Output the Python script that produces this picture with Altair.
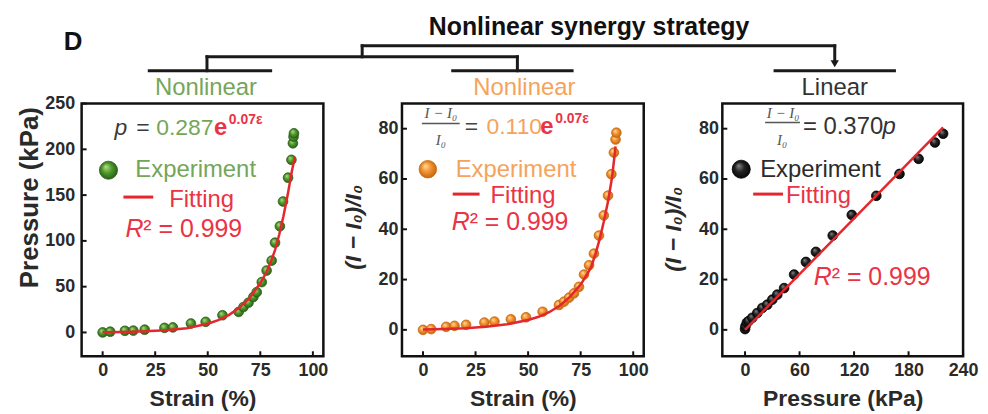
import altair as alt
import pandas as pd

FONT = "Liberation Sans"
SERIF = "Liberation Serif"

# ---------------- data ----------------
# Panel 1: strain (%) vs pressure (kPa)
strain_1 = [0, 3.6, 10.6, 14.6, 20, 29.4, 33.4, 42, 49, 57, 64.7, 67, 69.4, 71.7, 73.3,
            75.7, 78, 80.4, 82, 84.3, 85.8, 88.2, 89.8, 90.5, 90.8, 91]
pressure_1 = [0, 0.8, 1.8, 2, 3, 5, 5.5, 9.8, 11.6, 18.8, 22.4, 27.8, 32.5, 38.7, 44,
              55, 67.6, 78.4, 98, 116, 143, 169, 188.5, 206.6, 213.8, 217.5]
fit_strain_1 = [0, 10, 20, 30, 40, 50, 55, 60, 65, 70, 75, 78, 80, 82, 84, 86, 88, 90, 91.5]
fit_pressure_1 = [0.3, 0.6, 1.2, 2.4, 4.7, 9.5, 13.5, 19, 27, 38, 54, 66, 77, 90, 107, 127, 150, 176, 192]

# Panel 2: strain (%) vs (I-I0)/I0
strain_2 = [0, 3.9, 11, 15, 20.5, 29.2, 34, 41.8, 49, 56.9, 64.7, 67.1, 69.5, 71.8, 74.2,
            76.6, 79, 81.3, 83.7, 86, 88, 89.6, 90.8, 91.6, 92]
current_2 = [0, 0.3, 1.2, 1.6, 2, 2.9, 3.3, 4.2, 5, 7.2, 9.9, 11.2, 12.8, 14.5, 17.1,
             22, 25.7, 30.3, 37.5, 45.5, 53.4, 61.9, 70.5, 75.7, 78.4]
fit_strain_2 = [0, 10, 20, 30, 40, 50, 55, 60, 65, 70, 75, 78, 80, 82, 84, 86, 88, 90, 91.6]
fit_current_2 = [0.1, 0.3, 0.6, 1.2, 2.2, 3.9, 5.2, 7, 9.6, 13.2, 18, 22, 25, 30, 36, 43, 51, 61, 73]

# Panel 3: pressure (kPa) vs (I-I0)/I0
pressure_3 = [0, 0.5, 2, 4, 8, 13.5, 19, 24.5, 30, 35.5, 43, 54, 67, 78, 96.5, 117.5,
              144.5, 170, 191, 209, 218]
current_3 = [0.3, 1.5, 2.9, 3.5, 4.8, 6.7, 8.7, 10, 12, 14, 16.6, 22, 27, 31, 37.5, 45.7,
             53.3, 62, 68, 74.5, 78]
fit_pressure_3 = [0, 218]
fit_current_3 = [0, 80.5]

# axis ticks
ticks_strain = [0, 25, 50, 75, 100]
ticks_pressure_y = [0, 50, 100, 150, 200, 250]
ticks_current = [0, 20, 40, 60, 80]
ticks_pressure_x = [0, 60, 120, 180, 240]

# ---------------- styles ----------------
RED = "#e5262d"
RED_T = "#ea3344"
GREEN_T = "#74a65a"
ORANGE_T = "#f5a35c"
DARK = "#2b2b2b"
AXIS_C = "#2a2a2a"
FRAME = "#111111"

W = [243, 243, 242]
H = 254
ORIG = [(80, 101), (402, 101), (724, 101)]
SPACING = 79

one = pd.DataFrame({"k": [0]})


def sphere(light, mid, dark):
    return alt.Gradient(gradient="radial", x1=0.35, y1=0.3, r1=0.0, x2=0.5, y2=0.5, r2=0.6,
                        stops=[alt.GradientStop(color=light, offset=0),
                               alt.GradientStop(color=mid, offset=0.45),
                               alt.GradientStop(color=dark, offset=1)])


def txt(s, x, y, o, size, color, weight="normal", style="normal", font=FONT, align="left"):
    return alt.Chart(one).mark_text(text=s, fontSize=size, color=color, fontWeight=weight,
                                    fontStyle=style, font=font, align=align,
                                    baseline="alphabetic").encode(
        x=alt.value(x - o[0]), y=alt.value(y - o[1]))


def seg(x1, y1, x2, y2, o, color, width, opacity=1.0, cap="square"):
    return alt.Chart(one).mark_rule(color=color, strokeWidth=width, strokeCap=cap,
                                    opacity=opacity).encode(
        x=alt.value(x1 - o[0]), x2=alt.value(x2 - o[0]),
        y=alt.value(y1 - o[1]), y2=alt.value(y2 - o[1]))


def dot(x, y, o, size, grad, stroke):
    return alt.Chart(one).mark_circle(size=size, fill=grad, stroke=stroke, strokeWidth=0.8,
                                      opacity=1).encode(
        x=alt.value(x - o[0]), y=alt.value(y - o[1]))


def panel(i, xs, ys, fxs, fys, xdom, ydom, xticks, yticks, xtitle, ytitle,
          ytitle_style, ytitle_size, ytitle_pos, lab_pad, grad, pstroke, extras):
    o = ORIG[i]
    w = W[i]
    pts = pd.DataFrame({"x": xs, "y": ys})
    fit = pd.DataFrame({"x": fxs, "y": fys})
    xaxis = alt.Axis(values=xticks, ticks=False, domain=False, grid=False,
                     labelFont=FONT, labelFontSize=18, labelFontWeight="bold",
                     labelColor=AXIS_C, labelPadding=5, labelFlush=False,
                     title=xtitle, titleFont=FONT, titleFontSize=23, titleFontWeight="bold",
                     titleColor=AXIS_C, titleBaseline="alphabetic", titleY=50)
    yaxis = alt.Axis(values=yticks, ticks=False, domain=False, grid=False,
                     labelFont=FONT, labelFontSize=18, labelFontWeight="bold",
                     labelColor=AXIS_C, labelPadding=lab_pad, labelFlush=False,
                     title=ytitle, titleFont=FONT, titleFontSize=ytitle_size,
                     titleFontWeight="bold",
                     titleFontStyle=ytitle_style, titleColor=AXIS_C,
                     titleBaseline="middle", titleAngle=-90,
                     titleX=ytitle_pos[0] - o[0], titleY=ytitle_pos[1] - o[1])
    xs_ = alt.Scale(domain=xdom, nice=False, zero=False)
    ys_ = alt.Scale(domain=ydom, nice=False, zero=False)
    X = alt.X("x:Q", scale=xs_, axis=xaxis)
    Y = alt.Y("y:Q", scale=ys_, axis=yaxis)
    base_pts = alt.Chart(pts).mark_circle(size=95, fill=grad, stroke=pstroke, strokeWidth=0.8,
                                          opacity=1).encode(x=X, y=Y)
    line = alt.Chart(fit).mark_line(color=RED, strokeWidth=2.5).encode(x=X, y=Y)
    xt = alt.Chart(pd.DataFrame({"x": xticks})).mark_rule(color=FRAME, strokeWidth=2).encode(
        x=X, y=alt.value(H), y2=alt.value(H - 5))
    yt = alt.Chart(pd.DataFrame({"y": yticks})).mark_rule(color=FRAME, strokeWidth=2).encode(
        y=Y, x=alt.value(0), x2=alt.value(5))
    layers = [base_pts, line, xt, yt] + extras
    return alt.layer(*layers).properties(width=w, height=H)


G_GRAD = sphere("#b8e08a", "#4f9a2c", "#1f5010")
O_GRAD = sphere("#ffe0a0", "#f39230", "#b85a08")
K_GRAD = sphere("#888888", "#222222", "#000000")

# ---------- header (drawn from panel 1) ----------
o1 = ORIG[0]
HDR_C = "#1a1a1a"
header = [
    seg(8, 8, 9, 8, o1, "#ffffff", 1, opacity=0),  # page anchor
    txt("Nonlinear synergy strategy", 590, 32, o1, 25, "#111", weight="bold", align="center"),
    txt("D", 62, 47, o1, 26, "#111", weight="bold"),
    seg(362, 43, 837, 43, o1, HDR_C, 3),
    seg(362, 43, 362, 54, o1, HDR_C, 3),
    seg(206, 54, 518, 54, o1, HDR_C, 3),
    seg(206, 54, 206, 68, o1, HDR_C, 3),
    seg(518, 54, 518, 68, o1, HDR_C, 3),
    seg(148, 68, 270, 68, o1, HDR_C, 3),
    seg(453, 68, 573, 68, o1, HDR_C, 3),
    seg(777, 68, 897, 68, o1, HDR_C, 3),
    seg(837, 43, 837, 58, o1, HDR_C, 3),
    alt.Chart(one).mark_point(shape="triangle-down", filled=True, size=70, color=HDR_C,
                              opacity=1).encode(x=alt.value(837 - o1[0]), y=alt.value(61 - o1[1])),
    txt("Nonlinear", 205, 92, o1, 24, GREEN_T, align="center"),
    txt("Nonlinear", 525, 92, o1, 24, ORANGE_T, align="center"),
    txt("Linear", 837, 92, o1, 24, "#333", align="center"),
]

ann1 = [
    txt("p", 113, 133, o1, 23, "#3a3a3a", style="italic"),
    txt("=", 135, 133, o1, 23, "#3a3a3a"),
    txt("0.287", 155, 133, o1, 23, GREEN_T),
    txt("e", 213, 133, o1, 24, RED_T, weight="bold"),
    txt("0.07\u03b5", 228, 122, o1, 14, RED_T, weight="bold"),
    dot(107, 168, o1, 330, G_GRAD, "#2d5e18"),
    txt("Experiment", 134, 175, o1, 24, GREEN_T),
    seg(122, 195, 152, 195, o1, RED, 3, cap="butt"),
    txt("Fitting", 168, 205, o1, 24, RED_T),
    txt("R", 124, 235, o1, 25, RED_T, style="italic"),
    txt("\u00b2 = 0.999", 142, 235, o1, 25, RED_T),
]

o2 = ORIG[1]
ann2 = [
    txt("I \u2212 I\u2080", 441, 116, o2, 15, "#555", style="italic", font=SERIF, align="center"),
    seg(422, 121, 460, 121, o2, "#555", 1.5, cap="butt"),
    txt("I\u2080", 441, 143, o2, 15, "#555", style="italic", font=SERIF, align="center"),
    txt("=", 465, 132, o2, 23, "#444"),
    txt("0.110", 487, 132, o2, 23, ORANGE_T),
    txt("e", 541, 132, o2, 24, RED_T, weight="bold"),
    txt("0.07\u03b5", 556, 121, o2, 14, RED_T, weight="bold"),
    dot(428, 167, o2, 310, O_GRAD, "#c86a10"),
    txt("Experiment", 456, 175, o2, 24, ORANGE_T),
    seg(453, 192, 480, 192, o2, RED, 3, cap="butt"),
    txt("Fitting", 491, 201, o2, 24, RED_T),
    txt("R", 452, 228, o2, 25, RED_T, style="italic"),
    txt("\u00b2 = 0.999", 470, 228, o2, 25, RED_T),
]

o3 = ORIG[2]
ann3 = [
    txt("I \u2212 I\u2080", 785, 116, o3, 15, "#555", style="italic", font=SERIF, align="center"),
    seg(767, 120, 802, 120, o3, "#555", 1.5, cap="butt"),
    txt("I\u2080", 784, 143, o3, 15, "#555", style="italic", font=SERIF, align="center"),
    txt("= 0.370", 805, 132, o3, 24, "#333"),
    txt("p", 885, 132, o3, 24, "#333", style="italic"),
    dot(743, 167, o3, 330, K_GRAD, "#000"),
    txt("Experiment", 762, 175, o3, 24, DARK),
    seg(755, 192, 785, 192, o3, RED, 3, cap="butt"),
    txt("Fitting", 788, 201, o3, 24, RED_T),
    txt("R", 816, 283, o3, 25, RED_T, style="italic"),
    txt("\u00b2 = 0.999", 834, 283, o3, 25, RED_T),
]

p1 = panel(0, strain_1, pressure_1, fit_strain_1, fit_pressure_1, [-10, 105], [-26, 250],
           ticks_strain, ticks_pressure_y, "Strain (%)", "Pressure (kPa)", "normal", 26,
           (28, 195), 7, G_GRAD, "#2d5e18", ann1 + header)
p2 = panel(1, strain_2, current_2, fit_strain_2, fit_current_2, [-10, 105], [-10.5, 90],
           ticks_strain, ticks_current, "Strain (%)", "(I \u2212 I\u2080)/I\u2080", "italic", 23,
           (353, 225), 4, O_GRAD, "#c86a10", ann2)
p3 = panel(2, pressure_3, current_3, fit_pressure_3, fit_current_3, [-25, 240], [-10.5, 90],
           ticks_pressure_x, ticks_current, "Pressure (kPa)", "(I \u2212 I\u2080)/I\u2080", "italic", 23,
           (675, 227), 4, K_GRAD, "#000", ann3)

chart = alt.hconcat(p1, p2, p3, spacing=SPACING, bounds="flush").properties(
    padding=0
).configure(font=FONT).configure_view(stroke=FRAME, strokeWidth=2.5)

chart.save("out.html", embed_options={"renderer": "svg", "actions": False})
